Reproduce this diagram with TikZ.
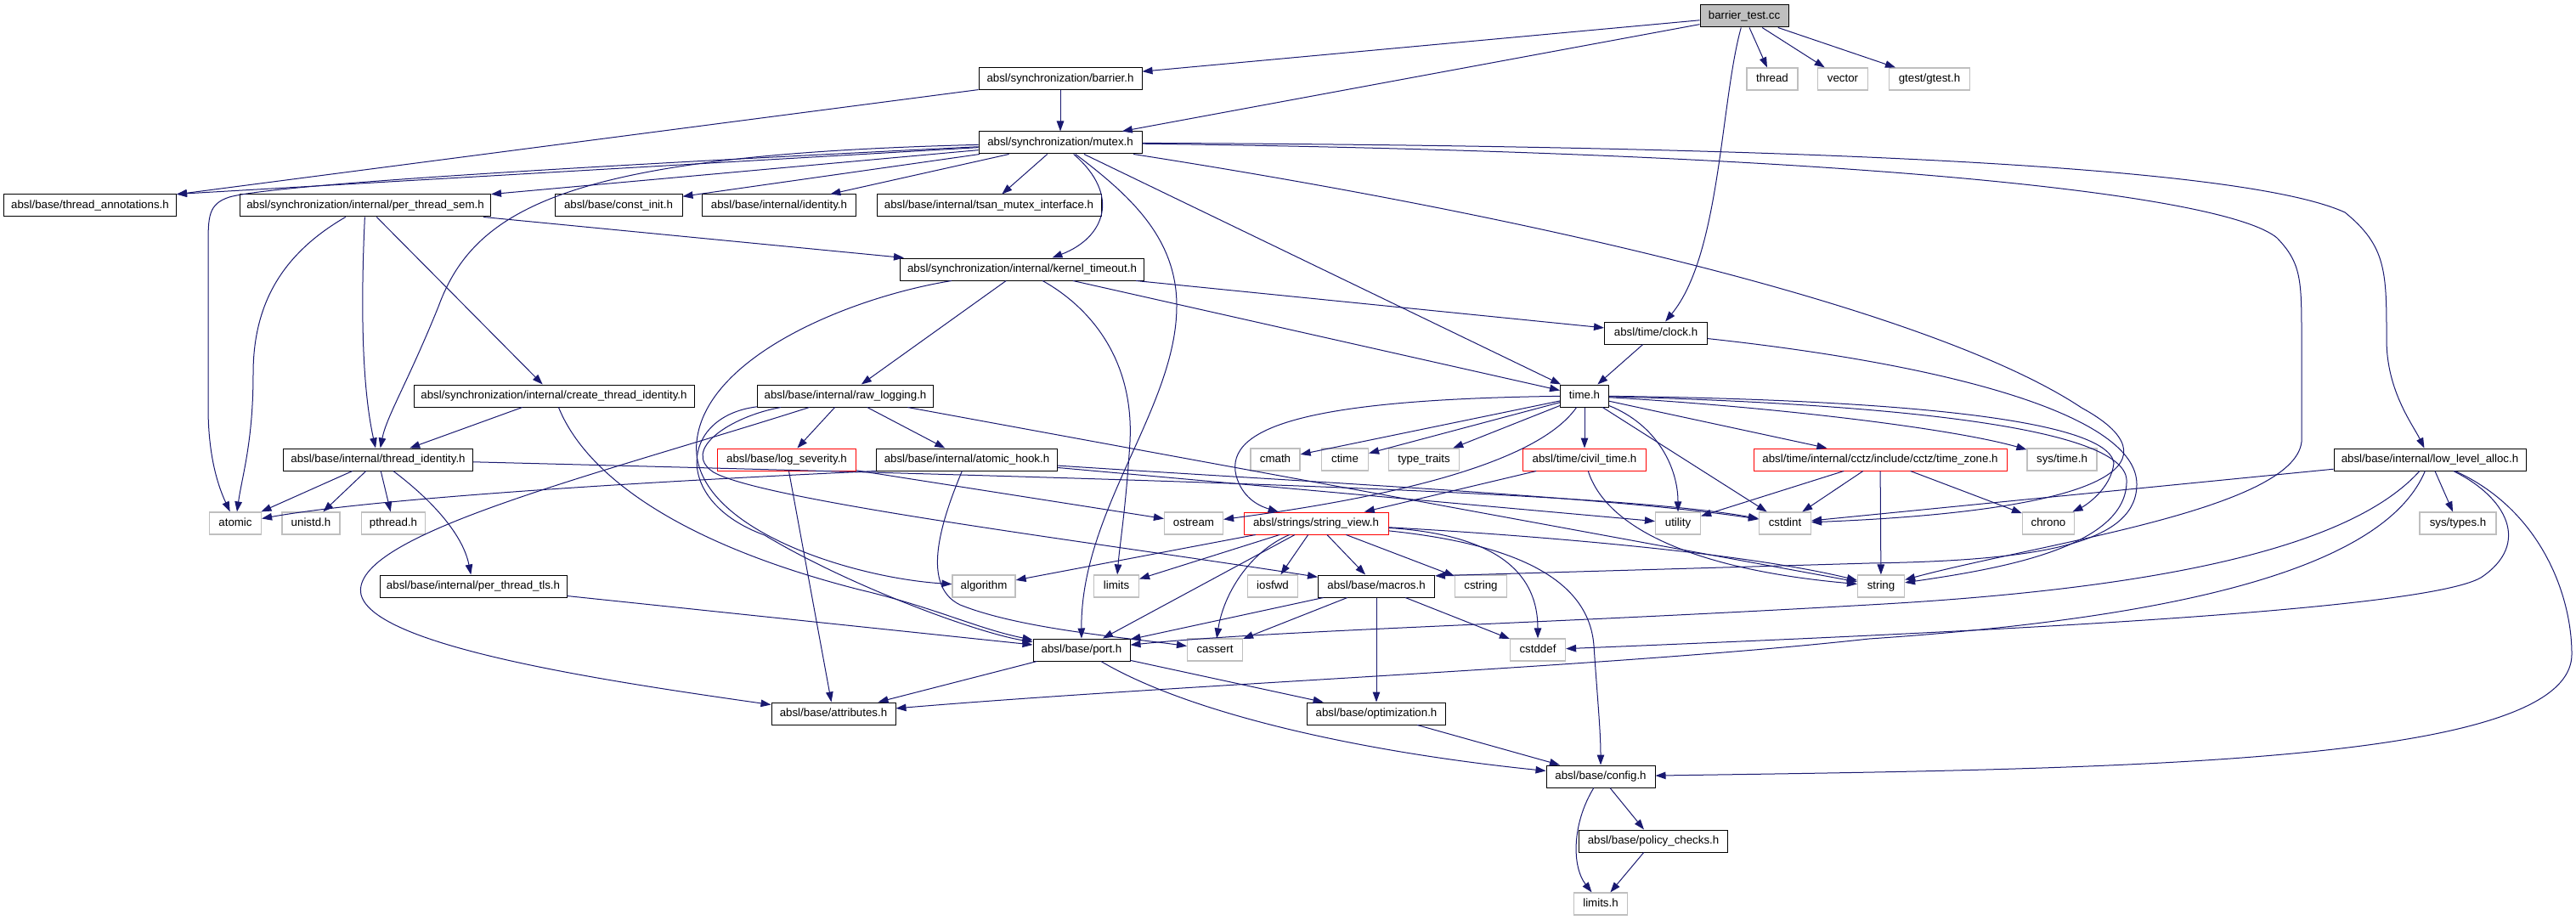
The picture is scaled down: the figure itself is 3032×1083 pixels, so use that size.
\documentclass[tikz,border=0pt]{standalone}
\usepackage{fontspec}
\setmainfont{Liberation Sans}
\usetikzlibrary{arrows.meta}
\definecolor{edgeblue}{HTML}{191970}
\definecolor{lgrey}{HTML}{BFBFBF}
\definecolor{nodered}{HTML}{FF0000}
\begin{document}
\begin{tikzpicture}[x=1pt,y=-1pt,
  nodebox/.style={rectangle, minimum height=26pt, inner xsep=1pt, inner ysep=0pt, fill=white,
    line width=1pt, font=\fontsize{13.3pt}{15pt}\selectfont, text height=9.8pt, text depth=2.8pt},
  nb/.style={nodebox, draw=black},
  ng/.style={nodebox, draw=lgrey, line width=1.2pt},
  nr/.style={nodebox, draw=nodered},
  nroot/.style={nodebox, draw=black, fill=lgrey},
  edg/.style={draw=edgeblue, line width=1pt, -{Triangle[length=12pt,width=8.5pt]}}]
\fill[white] (0,0) rectangle (3032,1083);
\useasboundingbox (0,0) rectangle (3032,1083);

% nodes
\node[nroot, minimum width=104pt] (root) at (2053,19) {barrier\_test.cc};
\node[nb, minimum width=192pt] (barrier) at (1248,93) {absl/synchronization/barrier.h};
\node[nb, minimum width=192pt] (mutex) at (1248,168) {absl/synchronization/mutex.h};
\node[ng, minimum width=60pt] (thread) at (2086,93) {thread};
\node[ng, minimum width=59pt] (vector) at (2169,93) {vector};
\node[ng, minimum width=95pt] (gtest) at (2271,93) {gtest/gtest.h};
\node[nb, minimum width=203pt] (tann) at (106,242) {absl/base/thread\_annotations.h};
\node[nb, minimum width=295pt] (pts) at (430,242) {absl/synchronization/internal/per\_thread\_sem.h};
\node[nb, minimum width=150pt] (constinit) at (728,242) {absl/base/const\_init.h};
\node[nb, minimum width=181pt] (identity) at (917,242) {absl/base/internal/identity.h};
\node[nb, minimum width=264pt] (tsan) at (1164,242) {absl/base/internal/tsan\_mutex\_interface.h};
\node[nb, minimum width=287pt] (kt) at (1203,317) {absl/synchronization/internal/kernel\_timeout.h};
\node[nb, minimum width=121pt] (clock) at (1949,392) {absl/time/clock.h};
\node[nb, minimum width=330pt] (cti) at (652,466) {absl/synchronization/internal/create\_thread\_identity.h};
\node[nb, minimum width=207pt] (rawlog) at (995,466) {absl/base/internal/raw\_logging.h};
\node[nb, minimum width=57pt] (time) at (1865,466) {time.h};
\node[nb, minimum width=223pt] (tid) at (445,541) {absl/base/internal/thread\_identity.h};
\node[nr, minimum width=163pt] (logsev) at (926,541) {absl/base/log\_severity.h};
\node[nb, minimum width=213pt] (atomichook) at (1138,541) {absl/base/internal/atomic\_hook.h};
\node[ng, minimum width=58pt] (cmath) at (1501,541) {cmath};
\node[ng, minimum width=55pt] (ctime) at (1583,541) {ctime};
\node[ng, minimum width=83pt] (typetraits) at (1676,541) {type\_traits};
\node[nr, minimum width=145pt] (civil) at (1865,541) {absl/time/civil\_time.h};
\node[nr, minimum width=298pt] (tz) at (2213,541) {absl/time/internal/cctz/include/cctz/time\_zone.h};
\node[ng, minimum width=82pt] (systime) at (2427,541) {sys/time.h};
\node[nb, minimum width=226pt] (lla) at (2860,541) {absl/base/internal/low\_level\_alloc.h};
\node[ng, minimum width=61pt] (atomic) at (277,616) {atomic};
\node[ng, minimum width=68pt] (unistd) at (366,616) {unistd.h};
\node[ng, minimum width=75pt] (pthread) at (463,616) {pthread.h};
\node[ng, minimum width=69pt] (ostream) at (1405,616) {ostream};
\node[nr, minimum width=170pt] (sv) at (1549,616) {absl/strings/string\_view.h};
\node[ng, minimum width=53pt] (utility) at (1975,616) {utility};
\node[ng, minimum width=61pt] (cstdint) at (2101,616) {cstdint};
\node[ng, minimum width=61pt] (chrono) at (2411,616) {chrono};
\node[ng, minimum width=90pt] (systypes) at (2893,616) {sys/types.h};
\node[nb, minimum width=220pt] (ptt) at (557,690) {absl/base/internal/per\_thread\_tls.h};
\node[ng, minimum width=74pt] (algorithm) at (1158,690) {algorithm};
\node[ng, minimum width=53pt] (limits) at (1314,690) {limits};
\node[ng, minimum width=59pt] (iosfwd) at (1498,690) {iosfwd};
\node[nb, minimum width=137pt] (macros) at (1620,690) {absl/base/macros.h};
\node[ng, minimum width=61pt] (cstring) at (1743,690) {cstring};
\node[ng, minimum width=55pt] (string) at (2214,690) {string};
\node[nb, minimum width=114pt] (port) at (1273,765) {absl/base/port.h};
\node[ng, minimum width=65pt] (cassert) at (1430,765) {cassert};
\node[ng, minimum width=65pt] (cstddef) at (1810,765) {cstddef};
\node[nb, minimum width=146pt] (attributes) at (981,840) {absl/base/attributes.h};
\node[nb, minimum width=163pt] (optimization) at (1620,840) {absl/base/optimization.h};
\node[nb, minimum width=128pt] (config) at (1884,914) {absl/base/config.h};
\node[nb, minimum width=175pt] (policy) at (1946,990) {absl/base/policy\_checks.h};
\node[ng, minimum width=63pt] (limitsh) at (1884,1064) {limits.h};

% barrier_test.cc
\draw[edg] (root) -- (barrier);
\draw[edg] (root) -- (mutex);
\draw[edg] (root) .. controls (2025,120) and (2025,300) .. (clock);
\draw[edg] (root) -- (thread);
\draw[edg] (root) -- (vector);
\draw[edg] (root) -- (gtest);
% barrier.h
\draw[edg] (barrier) -- (mutex);
\draw[edg] (barrier) -- (tann);
% mutex.h
\draw[edg] (mutex) -- (tann.north east);
\draw[edg] (mutex) .. controls (800,190) and (330,215) .. (270,232) .. controls (245,240) and (245,255) .. (245,290) -- (245,480) .. controls (245,540) and (258,575) .. (atomic);
\draw[edg] (mutex) -- (pts);
\draw[edg] (mutex) -- (constinit);
\draw[edg] (mutex) -- (identity);
\draw[edg] (mutex) -- (tsan);
\draw[edg] (mutex) .. controls (1320,230) and (1300,280) .. (kt);
\draw[edg] (mutex) .. controls (680,182) and (560,240) .. (516,361) .. controls (480,450) and (455,490) .. (tid);
\draw[edg] (mutex) .. controls (1330,230) and (1385,280) .. (1385,360) .. controls (1385,480) and (1272,600) .. (port);
\draw[edg] (mutex) -- (time);
\draw[edg] (mutex) .. controls (2200,172) and (2650,200) .. (2760,250) .. controls (2809,290) and (2809,320) .. (2809,400) .. controls (2809,460) and (2840,500) .. (lla);
\draw[edg] (mutex) .. controls (2200,180) and (2620,230) .. (2680,280) .. controls (2709,310) and (2709,330) .. (2709,400) -- (2709,520) .. controls (2700,600) and (2400,640) .. (string);
\draw[edg] (mutex) .. controls (1900,270) and (2300,380) .. (2450,480) .. controls (2560,540) and (2500,600) .. (cstdint);
% kernel_timeout.h
\draw[edg] (kt) .. controls (1000,350) and (830,420) .. (820,520) .. controls (810,620) and (1000,680) .. (algorithm);
\draw[edg] (kt) -- (rawlog);
\draw[edg] (kt) .. controls (1280,360) and (1335,420) .. (1330,520) .. controls (1325,600) and (1318,640) .. (limits);
\draw[edg] (kt) -- (time);
\draw[edg] (kt) -- (clock);
% clock.h
\draw[edg] (clock) -- (time);
\draw[edg] (clock) .. controls (2300,430) and (2515,490) .. (2515,570) .. controls (2515,640) and (2400,660) .. (2200,663) -- (macros.10);
% per_thread_sem.h
\draw[edg] (pts) .. controls (330,300) and (298,360) .. (298,440) .. controls (298,520) and (285,560) .. (atomic);
\draw[edg] (pts) .. controls (425,350) and (425,450) .. (tid);
\draw[edg] (pts) -- (cti);
\draw[edg] (pts) -- (kt);
% create_thread_identity.h
\draw[edg] (cti) -- (tid);
\draw[edg] (cti) .. controls (690,560) and (800,640) .. (1011,694) .. controls (1100,715) and (1150,740) .. (port);
% thread_identity.h
\draw[edg] (tid) -- (atomic);
\draw[edg] (tid) -- (unistd);
\draw[edg] (tid) -- (pthread);
\draw[edg] (tid) .. controls (510,590) and (545,630) .. (ptt);
\draw[edg] (tid) .. controls (1400,565) and (1900,580) .. (cstdint);
% per_thread_tls.h
\draw[edg] (ptt) -- (port);
% raw_logging.h
\draw[edg] (rawlog) -- (logsev);
\draw[edg] (rawlog) -- (atomichook);
\draw[edg] (rawlog) -- (string);
\draw[edg] (rawlog) .. controls (700,560) and (410,630) .. (425,700) .. controls (440,760) and (700,800) .. (attributes);
\draw[edg] (rawlog) .. controls (800,490) and (790,590) .. (900,630) .. controls (1000,690) and (1150,745) .. (port);
\draw[edg] (rawlog) .. controls (860,490) and (800,530) .. (840,556) .. controls (900,590) and (1300,640) .. (macros);
% log_severity.h
\draw[edg] (logsev) -- (attributes);
\draw[edg] (logsev) -- (ostream);
% atomic_hook.h
\draw[edg] (atomichook.south west) .. controls (800,565) and (450,585) .. (atomic);
\draw[edg] (atomichook) .. controls (1105,620) and (1085,690) .. (1130,712) .. controls (1200,740) and (1320,750) .. (cassert);
\draw[edg] (atomichook) -- (utility);
\draw[edg] (atomichook) .. controls (1500,565) and (1900,585) .. (cstdint);
% time.h
\draw[edg] (time) -- (cmath);
\draw[edg] (time) -- (ctime);
\draw[edg] (time) -- (typetraits);
\draw[edg] (time) -- (civil);
\draw[edg] (time) .. controls (1550,470) and (1440,500) .. (1455,560) .. controls (1462,585) and (1480,595) .. (sv);
\draw[edg] (time) .. controls (1810,545) and (1640,585) .. (ostream);
\draw[edg] (time) .. controls (1950,500) and (1975,550) .. (utility);
\draw[edg] (time) -- (cstdint);
\draw[edg] (time) -- (tz);
\draw[edg] (time) .. controls (2100,480) and (2300,505) .. (systime);
\draw[edg] (time) .. controls (2200,470) and (2480,490) .. (2488,545) .. controls (2485,575) and (2455,595) .. (chrono);
\draw[edg] (time) .. controls (2200,475) and (2500,500) .. (2503,565) .. controls (2505,645) and (2350,670) .. (string);
% civil_time.h
\draw[edg] (civil) -- (sv);
\draw[edg] (civil) .. controls (1890,620) and (1990,670) .. (string);
% time_zone.h
\draw[edg] (tz) -- (utility);
\draw[edg] (tz) -- (cstdint);
\draw[edg] (tz) -- (string);
\draw[edg] (tz) -- (chrono);
% string_view.h
\draw[edg] (sv) -- (algorithm);
\draw[edg] (sv) -- (limits);
\draw[edg] (sv) -- (iosfwd);
\draw[edg] (sv) -- (macros);
\draw[edg] (sv) -- (cstring);
\draw[edg] (sv) -- (port);
\draw[edg] (sv) .. controls (1470,650) and (1440,700) .. (cassert);
\draw[edg] (sv) .. controls (1770,630) and (1810,680) .. (cstddef);
\draw[edg] (sv) .. controls (1780,640) and (1870,680) .. (1876,760) .. controls (1880,820) and (1884,860) .. (config);
\draw[edg] (sv) .. controls (1800,630) and (2050,650) .. (string);
% macros.h
\draw[edg] (macros) -- (port);
\draw[edg] (macros) -- (cassert);
\draw[edg] (macros) -- (cstddef);
\draw[edg] (macros) -- (optimization);
% port.h
\draw[edg] (port) -- (attributes);
\draw[edg] (port) -- (optimization);
\draw[edg] (port) .. controls (1400,840) and (1600,885) .. (config);
% optimization.h
\draw[edg] (optimization) -- (config);
% config.h
\draw[edg] (config) -- (policy);
\draw[edg] (config) .. controls (1850,970) and (1850,1020) .. (limitsh);
\draw[edg] (policy) -- (limitsh);
% low_level_alloc.h
\draw[edg] (lla) -- (cstdint);
\draw[edg] (lla) -- (systypes);
\draw[edg] (lla) .. controls (2780,630) and (2600,690) .. (2200,712) .. controls (1800,735) and (1500,742) .. (port);
\draw[edg] (lla) .. controls (2810,660) and (2600,725) .. (2200,752) .. controls (1900,785) and (1400,805) .. (attributes);
\draw[edg] (lla) .. controls (2950,585) and (2980,640) .. (2920,680) .. controls (2850,720) and (2300,745) .. (cstddef);
\draw[edg] (lla) .. controls (2990,600) and (3027,700) .. (3027,770) .. controls (3027,900) and (2500,905) .. (config);
\end{tikzpicture}
\end{document}
